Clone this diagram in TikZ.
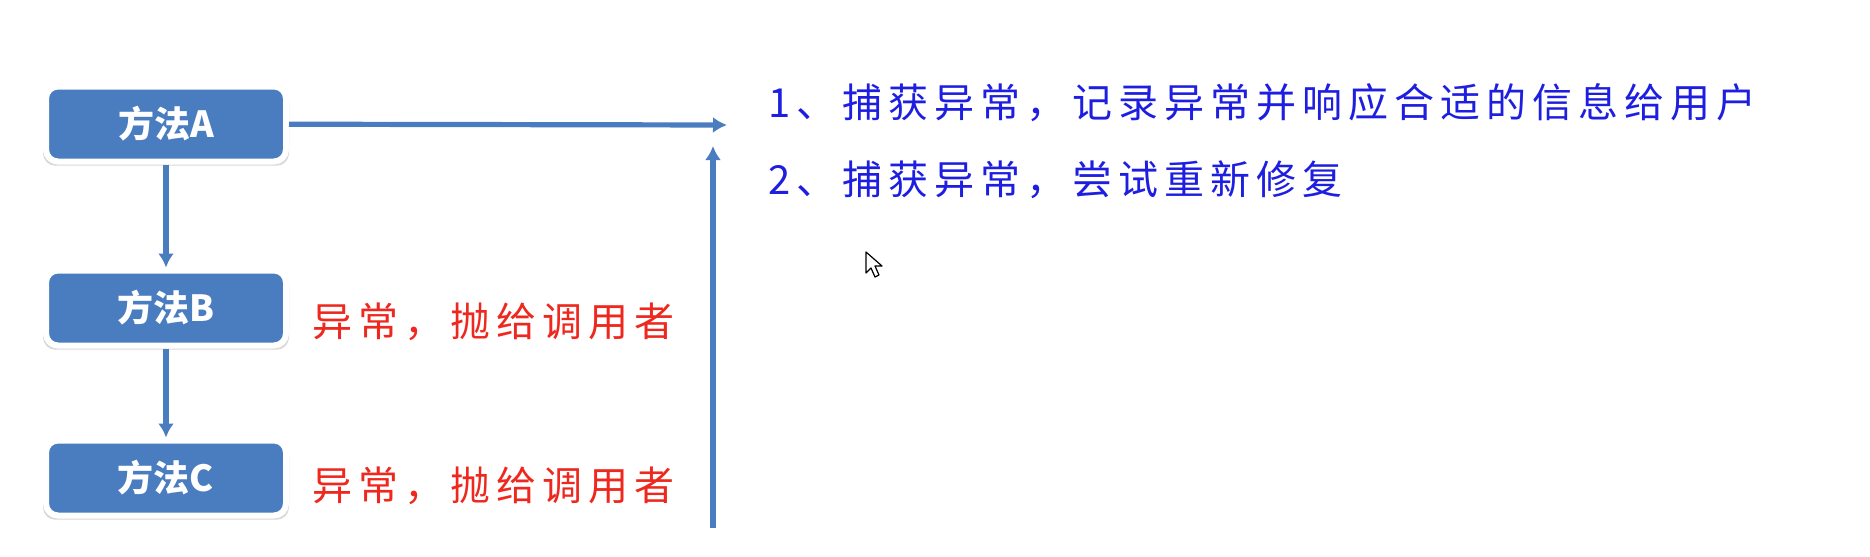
\documentclass[tikz,border=0pt]{standalone}
\usepackage{fontspec}
\newfontfamily\cjk{Noto Sans CJK SC}
\newfontfamily\cjknote[LetterSpace=15]{Noto Sans CJK SC}
\usetikzlibrary{shadows}
\usetikzlibrary{arrows.meta}
\tikzset{>=latex}
\definecolor{boxblue}{RGB}{74,125,192}
\definecolor{notered}{RGB}{238,40,30}
\definecolor{noteblue}{RGB}{30,30,225}
\tikzset{method/.style = {shape=rectangle,rounded corners=6pt,fill=boxblue,draw=white,line width=3pt,
    minimum width=120pt,minimum height=37.5pt,text=white,font=\cjk\bfseries\fontsize{18}{21}\selectfont,
    drop shadow={shadow xshift=0pt,shadow yshift=-1.6pt,shadow scale=1.025,opacity=0.3}}}
\tikzset{flow/.style = {-{Latex[length=7pt,width=8pt]},draw=boxblue,line width=2.6pt}}
\tikzset{throwtext/.style = {anchor=west,inner sep=0pt,text=notered,font=\cjknote\fontsize{20}{24}\selectfont}}
\tikzset{catchtext/.style = {anchor=west,inner sep=0pt,text=noteblue,font=\cjknote\fontsize{20}{24}\selectfont}}

\begin{document}
\begin{tikzpicture}[x=0.5pt,y=-0.5pt]
                \useasboundingbox (0,0) rectangle (1870,557);

                \node[method] (A) at (166,124) {方法A};
                \node[method] (B) at (166,308) {方法B};
                \node[method] (C) at (166,478) {方法C};

                \node[throwtext] (throwB) at (312,322) {异常，抛给调用者};
                \node[throwtext] (throwC) at (312,486) {异常，抛给调用者};

                \node[catchtext] (catch1) at (768,103) {1、捕获异常，记录异常并响应合适的信息给用户};
                \node[catchtext] (catch2) at (768,180) {2、捕获异常，尝试重新修复};

                \coordinate (out) at (727,125);
                \coordinate (rise0) at (713,528);
                \coordinate (rise1) at (713,146);

                \draw[flow] (A) -- (B);
                \draw[flow] (B) -- (C);
                \draw[flow] (A) -- (out);
                \draw[flow] (rise0) -- (rise1);

                % mouse pointer
                \draw[fill=white,line width=0.6pt,line join=round] (866,252) -- (866,273) -- (871,268) -- (875,277)
                    -- (879,275) -- (875,266) -- (882,266) -- cycle;
            \end{tikzpicture}
\end{document}
